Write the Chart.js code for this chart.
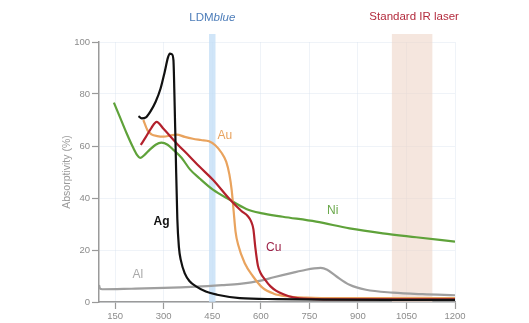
<!DOCTYPE html>
<html>
<head>
<meta charset="utf-8">
<script src="https://cdn.jsdelivr.net/npm/chart.js@4"></script>
<style>
  html, body { margin: 0; padding: 0; background: #fff; }
  #wrap { width: 529px; height: 323px; }
</style>
</head>
<body>
<div id="wrap"><canvas id="absChart" width="529" height="323"></canvas></div>
<script>
// wavelength (nm) / absorptivity (%)
const agNm  = [222, 232, 245, 260, 275, 290, 303, 313, 319, 325, 330, 333, 337, 342, 347, 353, 365, 380, 400, 430, 465, 535, 650, 800, 1000, 1200];
const agAbs = [71.5, 70.6, 71, 73.5, 77, 82, 88.5, 94, 95.5, 95.3, 93, 80, 58, 32, 21, 16, 11, 8, 6, 4, 2.8, 1.5, 1.1, 0.9, 0.8, 0.8];

const cuNm  = [229, 245, 262, 278, 300, 340, 380, 411, 452, 504, 540, 560, 570, 577, 583, 591, 600, 612, 630, 648, 670, 700, 750, 850, 1000, 1200];
const cuAbs = [60.4, 63.5, 67, 69.3, 66.5, 61, 56, 52, 47, 39.5, 35, 33, 31, 28, 21, 14, 11, 8.8, 6, 4.3, 3, 1.8, 1.2, 1, 1, 1];

const auNm  = [237, 250, 262, 280, 300, 320, 340, 365, 390, 415, 440, 460, 478, 493, 503, 510, 516, 522, 530, 550, 575, 605, 640, 680, 740, 850, 1000, 1200];
const auAbs = [70, 66, 64.5, 63.8, 63.6, 64, 64.4, 63.5, 62.8, 62.3, 61.8, 60.2, 57.5, 54, 49, 43, 35, 27, 22, 15, 10, 5.5, 3.2, 2.2, 1.7, 1.5, 1.5, 1.5];

const niNm  = [146, 165, 185, 205, 218, 227, 240, 257, 275, 293, 312, 330, 355, 381, 411, 452, 504, 555, 600, 668, 771, 874, 977, 1080, 1200];
const niAbs = [76.7, 71, 65, 59.5, 56.5, 55.4, 56.5, 58.6, 60.5, 61.3, 60.5, 58.5, 55.5, 51, 47.5, 43.2, 39.3, 35.8, 34.2, 32.8, 30.9, 28.3, 26.4, 24.9, 23.2];

const alNm  = [100, 103, 110, 200, 300, 400, 480, 535, 600, 640, 700, 740, 765, 785, 805, 833, 874, 925, 1008, 1100, 1200];
const alAbs = [6.5, 5.2, 4.9, 5.1, 5.4, 5.9, 6.5, 7, 8.2, 9.5, 11.3, 12.4, 12.9, 13.1, 12.4, 9.9, 6.6, 4.7, 3.6, 3.0, 2.6];

const xTicks = [150, 300, 450, 600, 750, 900, 1050, 1200];
const yTicks = [0, 20, 40, 60, 80, 100];

// laser bands (nm)
const ldmBand = [440, 460];
const irBand = [1005, 1130];

// curve labels: [text, nm, abs, color, bold]
const curveLabels = [
  ['Ag', 293, 31, '#111111', true],
  ['Cu', 640, 20.8, '#9c2146', false],
  ['Au', 489, 63.8, '#e8a35f', false],
  ['Ni', 822, 35, '#6aa84a', false],
  ['Al', 220, 10.4, '#a9a9a9', false],
];

const FONT = '"Liberation Sans", Arial, sans-serif';

function pts(xs, ys) {
  return xs.map((x, i) => ({ x: x, y: ys[i] }));
}

function line(label, xs, ys, color) {
  return {
    label: label,
    data: pts(xs, ys),
    borderColor: color,
    borderWidth: 2.2,
    pointRadius: 0,
    fill: false,
    cubicInterpolationMode: 'monotone',
  };
}

const decorPlugin = {
  id: 'decor',
  beforeDatasetsDraw(chart) {
    const c = chart.ctx;
    const xs = chart.scales.x;
    const area = chart.chartArea;
    c.save();
    c.fillStyle = 'rgba(196, 222, 246, 0.8)';
    let a = xs.getPixelForValue(ldmBand[0]), b = xs.getPixelForValue(ldmBand[1]);
    c.fillRect(a, area.top - 8, b - a, area.bottom - area.top + 8);
    c.fillStyle = 'rgba(238, 214, 200, 0.6)';
    a = xs.getPixelForValue(irBand[0]); b = xs.getPixelForValue(irBand[1]);
    c.fillRect(a, area.top - 8, b - a, area.bottom - area.top + 8);
    c.restore();
  },
  afterDatasetsDraw(chart) {
    const c = chart.ctx;
    const xs = chart.scales.x, ys = chart.scales.y;
    const area = chart.chartArea;
    c.save();
    c.textBaseline = 'middle';
    c.textAlign = 'center';
    curveLabels.forEach(([t, nx, vy, col, bold]) => {
      c.font = (bold ? 'bold ' : '') + '12px ' + FONT;
      c.fillStyle = col;
      c.fillText(t, xs.getPixelForValue(nx), ys.getPixelForValue(vy));
    });

    // band titles
    const ty = area.top - 24;
    c.font = '11.5px ' + FONT;
    const w1 = c.measureText('LDM').width;
    c.font = 'italic 11.5px ' + FONT;
    const w2 = c.measureText('blue').width;
    const cx = xs.getPixelForValue((ldmBand[0] + ldmBand[1]) / 2);
    let sx = cx - (w1 + w2) / 2;
    c.textAlign = 'left';
    c.fillStyle = '#4d7db9';
    c.font = '11.5px ' + FONT;
    c.fillText('LDM', sx, ty);
    c.font = 'italic 11.5px ' + FONT;
    c.fillText('blue', sx + w1, ty);

    c.textAlign = 'center';
    c.font = '11.5px ' + FONT;
    c.fillStyle = '#b32b3d';
    c.fillText('Standard IR laser', xs.getPixelForValue((irBand[0] + irBand[1]) / 2) + 2, ty - 1);

    // y axis title
    c.translate(67, 172);
    c.rotate(-Math.PI / 2);
    c.font = '10.5px ' + FONT;
    c.fillStyle = '#999999';
    c.fillText('Absorptivity (%)', 0, 0);
    c.restore();
  },
};

const absChart = new Chart(document.getElementById('absChart'), {
  type: 'line',
  data: {
    datasets: [
      line('Ag', agNm, agAbs, '#111111'),
      line('Cu', cuNm, cuAbs, '#b3212c'),
      line('Au', auNm, auAbs, '#e9a35e'),
      line('Ni', niNm, niAbs, '#5fa23a'),
      line('Al', alNm, alAbs, '#9f9f9f'),
    ],
  },
  options: {
    responsive: false,
    animation: false,
    layout: { padding: { left: 0, right: 74, top: 42, bottom: 0 } },
    plugins: { legend: { display: false }, tooltip: { enabled: false } },
    scales: {
      x: {
        type: 'linear',
        min: 100,
        max: 1200,
        afterBuildTicks: (s) => { s.ticks = xTicks.map(v => ({ value: v })); },
        afterFit: (s) => { s.height = 21; },
        grid: { color: 'rgba(215, 225, 238, 0.4)', tickColor: '#9a9a9a', tickLength: 7, tickWidth: 1.2 },
        border: { color: '#9a9a9a', width: 1.5 },
        ticks: {
          color: '#8c8c8c', padding: 2, maxRotation: 0,
          font: { family: FONT, size: 9.5 },
          callback: (v) => String(v),
        },
      },
      y: {
        min: 0,
        max: 100,
        afterBuildTicks: (s) => { s.ticks = yTicks.map(v => ({ value: v })); },
        afterFit: (s) => { s.width = 99; },
        grid: { color: 'rgba(215, 225, 238, 0.4)', tickColor: '#9a9a9a', tickLength: 7, tickWidth: 1.2 },
        border: { color: '#9a9a9a', width: 1.5 },
        ticks: {
          color: '#8c8c8c', padding: 2,
          font: { family: FONT, size: 9.5 },
          callback: (v) => String(v),
        },
      },
    },
  },
  plugins: [decorPlugin],
});
</script>
</body>
</html>
